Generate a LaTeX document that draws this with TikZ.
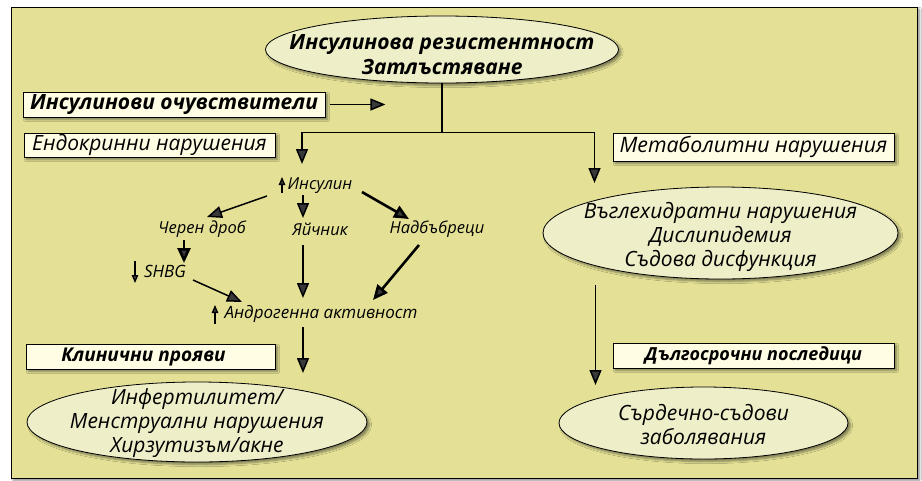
\documentclass[tikz,border=0pt]{standalone}
\usepackage{fontspec}
\setmainfont{Open Sans}
\usetikzlibrary{shapes.geometric,arrows.meta,calc,shadows.blur}
\definecolor{bgcol}{RGB}{228,225,150}
\definecolor{ellcol}{RGB}{238,238,200}
\definecolor{boxcol}{RGB}{255,253,228}
\tikzset{
  shad/.style={blur shadow={shadow xshift=2.5pt,shadow yshift=-2.5pt,shadow blur steps=6,shadow opacity=45}},
  ell/.style={ellipse,draw,line width=0.8pt,fill=ellcol,shad,inner sep=0pt},
  etext/.style={inner sep=0pt,align=center,font=\itshape\fontsize{21}{24}\selectfont},
  lbox/.style={draw,line width=0.8pt,fill=boxcol,shad,inner sep=0pt,align=center},
  small/.style={inner sep=0pt,font=\itshape\fontsize{16.5}{18}\selectfont},
  arr/.style={-{Triangle[length=15pt,width=12pt]},line width=1.5pt},
  tarr/.style={-{Triangle[length=15pt,width=13pt]},line width=2.6pt},
  marr/.style={-{Triangle[length=8pt,width=6.5pt]},line width=1.2pt},
  line/.style={line width=1.5pt}
}
\begin{document}
\begin{tikzpicture}[x=1pt,y=-1pt]
\useasboundingbox (0,0) rectangle (922,480);
\fill[white] (0,0) rectangle (922,480);
\draw[fill=bgcol,line width=0.8pt,shad] (11,7) rectangle (917,478);

% top ellipse
\node[ell,minimum width=353,minimum height=67] (top) at (442,49.5) {};
\node[etext,font=\bfseries\itshape\fontsize{21}{25}\selectfont] (topt) at ($(top)+(0,5)$) {Инсулинова резистентност\\Затлъстяване};

% label boxes
\node[lbox,minimum width=302,minimum height=25,font=\bfseries\itshape\fontsize{21}{22}\selectfont] (sens) at (174,104.5) {Инсулинови очувствители};
\node[lbox,minimum width=251,minimum height=24,font=\itshape\fontsize{21}{22}\selectfont] (endo) at (149.5,145) {Ендокринни нарушения};
\node[lbox,minimum width=281,minimum height=28,font=\itshape\fontsize{21.3}{22}\selectfont] (metab) at (753.5,147) {Метаболитни нарушения};
\node[lbox,minimum width=249,minimum height=25,font=\bfseries\itshape\fontsize{19}{20}\selectfont] (clin) at (150.5,356.5) {\hspace*{-14pt}Клинични прояви};
\node[lbox,minimum width=281,minimum height=25,font=\bfseries\itshape\fontsize{18}{19}\selectfont] (long) at (753.5,355.5) {Дългосрочни последици};

% ellipses
\node[ell,minimum width=355,minimum height=92] (met) at (720.5,233) {};
\node[etext] (mett) at ($(met)+(0,4)$) {Въглехидратни нарушения\\Дислипидемия\\Съдова дисфункция};
\node[ell,minimum width=289,minimum height=72] (cvd) at (703.5,423) {};
\node[etext] (cvdt) at ($(cvd)+(0,2)$) {Сърдечно-съдови\\заболявания};
\node[ell,minimum width=340,minimum height=80] (cons) at (197,422) {};
\node[etext] (const) at ($(cons)+(0,1.5)$) {Инфертилитет/\\Менструални нарушения\\Хирзутизъм/акне};

% small nodes
\node[small] (ins) at (320,186) {Инсулин};
\node[small] (liver) at (202,229) {Черен дроб};
\node[small] (ovary) at (320,229) {Яйчник};
\node[small] (adr) at (437,229) {Надбъбреци};
\node[small,font=\itshape\fontsize{17}{18}\selectfont] (shbg) at (165,271) {SHBG};
\node[small,font=\itshape\fontsize{17}{18}\selectfont] (andr) at (321,314) {Андрогенна активност};

% indicator arrows
\draw[marr] ($(ins)+(-38,7)$) -- ($(ins)+(-38,-9)$);
\draw[marr] ($(shbg)+(-30,-10)$) -- ($(shbg)+(-30,12)$);
\draw[marr] ($(andr)+(-106,10)$) -- ($(andr)+(-106,-9)$);

% main connectors
\coordinate (split) at ($(top.south)+(0,49)$);
\draw[line] (top.south) -- (split);
\draw[arr] (split) -| ($(ins)+(-18,-22)$);
\draw[arr] (split) -| ($(met)+(-126,-50)$);
\coordinate (sensend) at ($(sens.east)+(60,0)$);
\draw[arr] ($(sens.east)+(5,0)$) -- (sensend);

% inner connectors
\draw[arr] ($(ins)+(-53,10)$) -- ($(liver)+(5,-12)$);
\draw[arr] ($(ins)+(-17,9)$) -- ($(ovary)+(-17,-11)$);
\draw[tarr] ($(ins)+(42,6)$) -- ($(adr)+(-28,-10)$);
\draw[tarr] ($(liver)+(-18,11)$) -- ($(shbg)+(19,-8)$);
\draw[arr] ($(shbg)+(28,9)$) -- ($(andr)+(-79,-12)$);
\draw[arr] ($(ovary)+(-17,16)$) -- ($(andr)+(-18,-16)$);
\draw[tarr] ($(adr)+(-18,16)$) -- ($(andr)+(52,-14)$);
\draw[arr] ($(andr)+(-18,13)$) -- ($(cons)+(106,-49)$);
\draw[arr] ($(met)+(-125,52)$) -- ($(cvd)+(-108,-38)$);
\end{tikzpicture}
\end{document}
